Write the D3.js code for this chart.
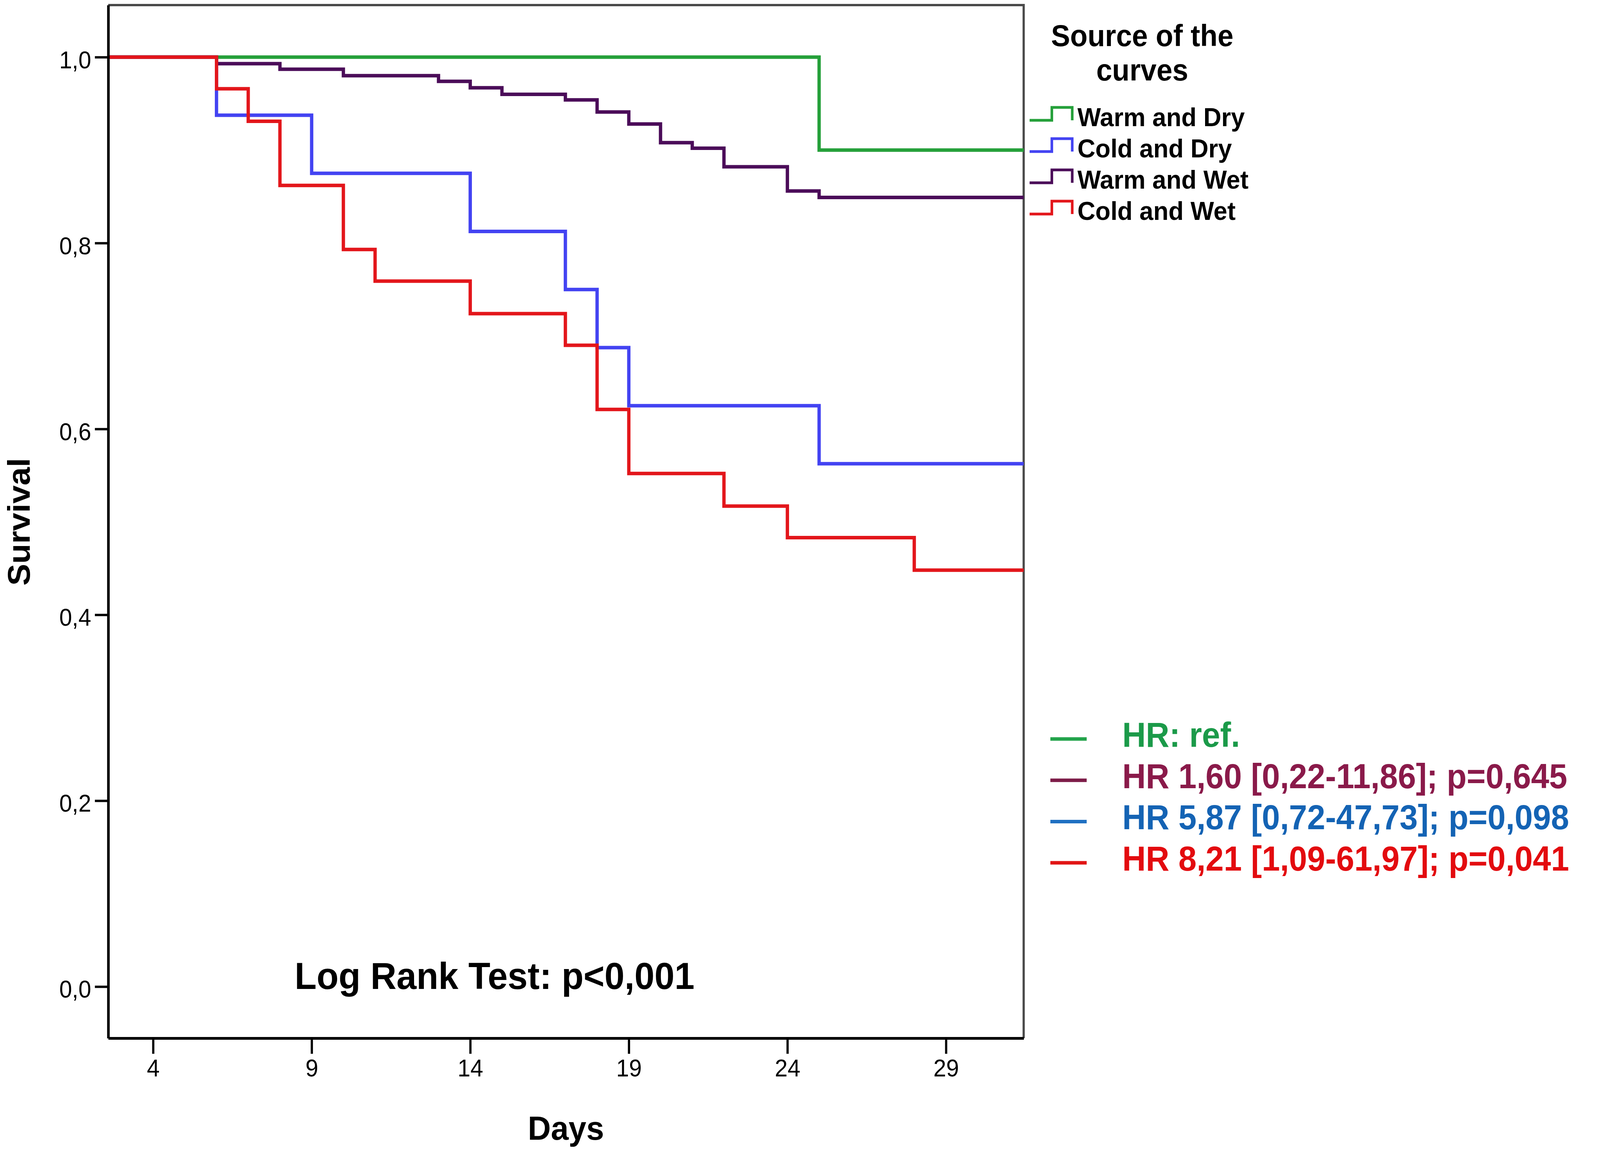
<!DOCTYPE html>
<html>
<head>
<meta charset="utf-8">
<script src="https://cdn.jsdelivr.net/npm/d3@7"></script>
<style>
html, body { margin:0; padding:0; background:#fff; overflow:hidden; }
#km svg { display:block; width:100vw; height:100vh; }
text { font-family:"Liberation Sans", Arial, sans-serif; }
.axis text { font-size:62px; fill:#000; }
.lbl { font-weight:bold; fill:#000; }
</style>
</head>
<body>
<div id="km"></div>
<script>
// groups, in drawing order (red ends on top)
var seriesNames = ["Warm and Dry", "Cold and Dry", "Warm and Wet", "Cold and Wet"];
var seriesColors = ["#25a03a", "#4343f2", "#4b0c59", "#e3161b"];

// [day, survival] after each event
var warmDry = [[0,1],[25,0.900],[32,0.900]];
var coldDry = [[0,1],[6,0.9375],[9,0.875],[14,0.8125],[17,0.75],[18,0.6875],[19,0.625],[25,0.5625],[32,0.5625]];
var warmWet = [[0,1],[6,0.993],[8,0.987],[10,0.980],[13,0.974],[14,0.967],[15,0.960],[17,0.954],[18,0.941],[19,0.928],[20,0.908],[21,0.902],[22,0.882],[24,0.856],[25,0.849],[32,0.849]];
var coldWet = [[0,1],[6,0.966],[7,0.931],[8,0.862],[10,0.793],[11,0.759],[14,0.724],[17,0.690],[18,0.621],[19,0.552],[22,0.517],[24,0.483],[28,0.448],[32,0.448]];

var xTicks = [4, 9, 14, 19, 24, 29];
var yTicks = [0, 0.2, 0.4, 0.6, 0.8, 1.0];

var legendTitle = ["Source of the", "curves"];
var hrLabels = ["HR: ref.", "HR 1,60 [0,22-11,86]; p=0,645", "HR 5,87 [0,72-47,73]; p=0,098", "HR 8,21 [1,09-61,97]; p=0,041"];
var hrColors = ["#1b9a49", "#8a1a4a", "#1463b4", "#e30b0f"];
var hrMarkColors = ["#23a34b", "#7d1c48", "#1f70c2", "#e11414"];

var km_plot = function(){
	var curves = [warmDry, coldDry, warmWet, coldWet];
	var svg = d3.select("#km").append("svg")
		.attr("viewBox", "0 0 4317 2952")
		.attr("preserveAspectRatio", "none")
		.append("g");

	var L = 292, R = 2762, T = 13, B = 2658;
	var x = d3.scaleLinear().domain([2.586, 31.45]).range([L, R]);
	var y = d3.scaleLinear().domain([-0.0555, 1.056]).range([B, T]);

	var xAxis = d3.axisBottom(x).tickValues(xTicks).tickSizeInner(40).tickSizeOuter(0).tickPadding(14);
	var yAxis = d3.axisLeft(y).tickValues(yTicks).tickSizeInner(36).tickSizeOuter(0).tickPadding(10)
		.tickFormat(function(d){ return d3.format(".1f")(d).replace(".", ","); });

	svg.append("defs").append("clipPath").attr("id", "plotclip")
		.append("rect").attr("x", L).attr("y", T).attr("width", R - L).attr("height", B - T);

	// top and right frame
	svg.append("path").attr("d", "M" + L + "," + T + "H" + R + "V" + B)
		.attr("fill", "none").attr("stroke", "#4a4a4a").attr("stroke-width", 6);

	var line = d3.line()
		.curve(d3.curveStepAfter)
		.x(function(d) { return x(d[0]); })
		.y(function(d) { return y(d[1]); });

	for (var k = 0; k < curves.length; k++) {
		svg.append("g").attr("clip-path", "url(#plotclip)").datum(curves[k])
			.append("path").attr("class", "line fam" + k)
			.attr("fill", "none")
			.attr("stroke", seriesColors[k])
			.attr("stroke-width", 9).attr("d", line);
	}

	var gx = svg.append("g").attr("class", "x axis")
		.attr("transform", "translate(0," + B + ")").call(xAxis);
	var gy = svg.append("g").attr("class", "y axis")
		.attr("transform", "translate(" + L + ",0)").call(yAxis);
	gx.selectAll(".domain,line").attr("stroke", "#000").attr("stroke-width", 6);
	gy.selectAll(".domain,line").attr("stroke", "#000").attr("stroke-width", 6);
	gx.select(".domain").attr("stroke-width", 7);
	gy.select(".domain").attr("stroke-width", 7);
	gx.selectAll("text").attr("font-size", 62);
	gy.selectAll("text").attr("font-size", 62).attr("dy", "0.45em");

	svg.append("text").attr("class", "lbl")
		.attr("text-anchor", "middle")
		.attr("transform", "translate(80,1336) rotate(-90)")
		.attr("font-size", 84).text("Survival");

	svg.append("text").attr("class", "lbl")
		.attr("text-anchor", "middle")
		.attr("x", (L + R) / 2).attr("y", 2918)
		.attr("font-size", 86).text("Days");

	svg.append("text").attr("class", "lbl")
		.attr("x", 795).attr("y", 2532)
		.attr("font-size", 97).text("Log Rank Test: p<0,001");

	// legend: source of the curves
	svg.append("g").selectAll(".legtitle").data(legendTitle).enter()
		.append("text").attr("class", "lbl legtitle").attr("text-anchor", "middle")
		.attr("x", 3082).attr("y", function(d, i){ return 118 + i * 88; })
		.attr("font-size", 77).text(function(d){ return d; });

	var leg = svg.append("g").selectAll(".legrow").data(seriesNames).enter()
		.append("g").attr("class", function(d, i){ return "legrow fam" + i; })
		.attr("transform", function(d, i){ return "translate(0," + (323 + i * 80) + ")"; });
	leg.append("path")
		.attr("d", "M2778,-15H2838V-48H2893V-15")
		.attr("fill", "none")
		.attr("stroke", function(d, i){ return seriesColors[i]; })
		.attr("stroke-width", 7);
	leg.append("text").attr("class", "lbl")
		.attr("x", 2907).attr("y", 0).attr("font-size", 67)
		.text(function(d){ return d; });

	// hazard ratio legend
	var hr = svg.append("g").selectAll(".hrrow").data(hrLabels).enter()
		.append("g").attr("class", "hrrow")
		.attr("transform", function(d, i){ return "translate(0," + (1912 + i * 105.7) + ")"; });
	hr.append("line")
		.attr("x1", 2834).attr("x2", 2932).attr("y1", -20).attr("y2", -20)
		.attr("stroke", function(d, i){ return hrMarkColors[i]; })
		.attr("stroke-width", 9);
	hr.append("text")
		.attr("x", 3028).attr("y", 0)
		.attr("font-size", 88).attr("font-weight", "bold")
		.attr("fill", function(d, i){ return hrColors[i]; })
		.text(function(d){ return d; });
};

window.onload = function() {
	km_plot();
};
</script>
</body>
</html>
